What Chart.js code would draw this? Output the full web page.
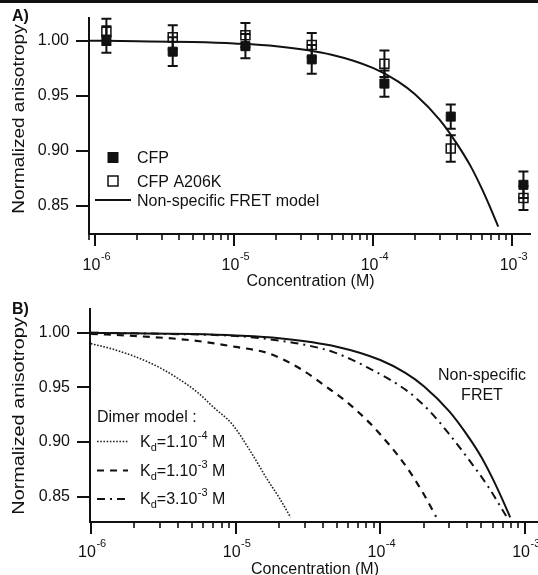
<!DOCTYPE html>
<html>
<head>
<meta charset="utf-8">
<title>Normalized anisotropy</title>
<script src="https://cdn.jsdelivr.net/npm/chart.js@4.4.0/dist/chart.umd.min.js"></script>
<style>
  body { margin: 0; background: #fff; }
  canvas { display: block; }
</style>
</head>
<body>
<canvas id="chartA" width="538" height="290"></canvas>
<canvas id="chartB" width="538" height="285"></canvas>
<script>
// ---- values ----

// panel A, measured points
var concentrations = [1.2e-6, 3.6e-6, 1.2e-5, 3.6e-5, 1.2e-4, 3.6e-4, 1.2e-3];
var cfpValues = [1.001, 0.990, 0.995, 0.983, 0.961, 0.931, 0.869];
var cfpErrors = [0.012, 0.013, 0.011, 0.013, 0.012, 0.011, 0.012];
var a206kValues = [1.008, 1.003, 1.005, 0.996, 0.979, 0.902, 0.857];
var a206kErrors = [0.012, 0.011, 0.011, 0.011, 0.012, 0.012, 0.011];

// non-specific FRET model (both panels)
var fretConc = [9e-7, 2e-6, 5e-6, 1e-5, 2e-5, 5e-5, 1e-4, 1.5e-4, 2e-4, 3e-4, 4e-4, 5e-4, 6e-4, 7e-4, 7.9e-4];
var fretValues = [1.000, 0.9995, 0.9987, 0.9974, 0.9949, 0.9872, 0.975, 0.963, 0.951, 0.928, 0.906, 0.886, 0.866, 0.847, 0.831];

// panel B, dimer model curves
var kd1e4Conc = [1e-6, 1.5e-6, 2.6e-6, 3.8e-6, 5.5e-6, 7e-6, 9.5e-6, 1.3e-5, 1.65e-5, 2e-5, 2.4e-5];
var kd1e4Values = [0.990, 0.984, 0.972, 0.960, 0.945, 0.932, 0.916, 0.889, 0.866, 0.849, 0.831];
var kd1e3Conc = [1e-6, 2e-6, 5e-6, 1e-5, 1.7e-5, 2.8e-5, 4.5e-5, 5.7e-5, 8.5e-5, 1.16e-4, 1.52e-4, 1.98e-4, 2.43e-4];
var kd1e3Values = [0.999, 0.997, 0.993, 0.987, 0.981, 0.967, 0.948, 0.938, 0.917, 0.897, 0.877, 0.853, 0.8315];
var kd3e3Conc = [1e-6, 3e-6, 1e-5, 1.7e-5, 3e-5, 4.8e-5, 8.2e-5, 1.56e-4, 2.2e-4, 3e-4, 3.95e-4, 5.57e-4, 7.46e-4];
var kd3e3Values = [1.000, 0.999, 0.997, 0.994, 0.989, 0.982, 0.968, 0.946, 0.928, 0.907, 0.8865, 0.859, 0.8315];

var kdMantissa = ['1', '1', '3'];
var kdExponent = ['-4', '-3', '-3'];

// axes
var yTickValues = [0.85, 0.90, 0.95, 1.00];
var xTickValues = [1e-6, 1e-5, 1e-4, 1e-3];
var xTickExponents = ['-6', '-5', '-4', '-3'];
var rangeA = { xMin: 8.995e-7, xMax: 1.340e-3, yMin: 0.8243, yMax: 1.0206 };
var rangeB = { xMin: 9.86e-7, xMax: 1.230e-3, yMin: 0.8267, yMax: 1.0217 };

var FONT = '"Liberation Sans", Arial, Helvetica, sans-serif';
var INK = '#111';


// ===============================================================================================

function toPoints(xs, ys) {
  var pts = [];
  for (var i = 0; i < xs.length; i++) {
    pts.push({ x: xs[i], y: ys[i] });
  }
  return pts;
}

function font(size, bold) {
  return (bold ? 'bold ' : '') + size + 'px ' + FONT;
}

// draws a run of text pieces, some of them raised or lowered
function richText(ctx, x, y, parts) {
  for (var i = 0; i < parts.length; i++) {
    var p = parts[i];
    ctx.font = font(p.size);
    ctx.fillText(p.t, x, y + (p.dy || 0));
    x += ctx.measureText(p.t).width + (p.gap || 0);
  }
}

function drawAxisBits(chart, labelBase, titleBase, titleCenterY, titleStretch) {
  var ctx = chart.ctx;
  var xs = chart.scales.x;
  var area = chart.chartArea;
  ctx.save();
  ctx.strokeStyle = INK;
  ctx.fillStyle = INK;

  // log ticks under the x axis
  var lo = Math.floor(Math.log10(xs.min));
  var hi = Math.ceil(Math.log10(xs.max));
  for (var d = lo; d <= hi; d++) {
    for (var m = 1; m <= 9; m++) {
      var v = m * Math.pow(10, d);
      if (v < xs.min || v > xs.max) continue;
      var px = Math.round(xs.getPixelForValue(v));
      ctx.lineWidth = m === 1 ? 2 : 1.6;
      ctx.beginPath();
      ctx.moveTo(px, area.bottom);
      ctx.lineTo(px, area.bottom + (m === 1 ? 12 : 6));
      ctx.stroke();
    }
  }

  // 10^n labels
  ctx.textBaseline = 'alphabetic';
  ctx.textAlign = 'left';
  for (var i = 0; i < xTickValues.length; i++) {
    var x = xs.getPixelForValue(xTickValues[i]);
    ctx.font = font(16);
    var w1 = ctx.measureText('10').width;
    ctx.font = font(11);
    var w2 = ctx.measureText(xTickExponents[i]).width;
    var start = x - (w1 + w2) / 2 + 1;
    richText(ctx, start, labelBase, [
      { t: '10', size: 16, gap: 0.5 },
      { t: xTickExponents[i], size: 11, dy: -9.5 }
    ]);
  }

  // axis titles
  ctx.font = font(16);
  ctx.textAlign = 'center';
  ctx.fillText('Concentration (M)', (area.left + area.right) / 2 + 1, titleBase);

  ctx.save();
  ctx.translate(24, titleCenterY);
  ctx.rotate(-Math.PI / 2);
  ctx.scale(titleStretch, 1);
  ctx.fillText('Normalized anisotropy', 0, 0);
  ctx.restore();

  ctx.restore();
}

function axisOptions(range, yWidth, xHeight) {
  return {
    x: {
      type: 'logarithmic',
      min: range.xMin,
      max: range.xMax,
      grid: { display: false },
      ticks: { display: false },
      border: { display: true, width: 2, color: INK },
      afterFit: function (s) {
        s.height = xHeight;
        s.paddingLeft = 0;
        s.paddingRight = 0;
      }
    },
    y: {
      min: range.yMin,
      max: range.yMax,
      afterBuildTicks: function (s) {
        s.ticks = yTickValues.map(function (v) { return { value: v }; });
      },
      afterFit: function (s) {
        s.width = yWidth;
        s.paddingTop = 0;
        s.paddingBottom = 0;
      },
      ticks: {
        font: { family: FONT, size: 16 },
        color: INK,
        padding: 7,
        callback: function (v) { return Number(v).toFixed(2); }
      },
      grid: { drawOnChartArea: false, drawTicks: true, tickLength: 13, lineWidth: 2, color: INK },
      border: { display: true, width: 2, color: INK }
    }
  };
}


// ===============================================================================================
// panel A

var errorBarsPlugin = {
  id: 'errorBars',
  beforeDatasetsDraw: function (chart) {
    var ctx = chart.ctx;
    var xs = chart.scales.x;
    var ys = chart.scales.y;
    var sets = [[cfpValues, cfpErrors], [a206kValues, a206kErrors]];
    ctx.save();
    ctx.strokeStyle = INK;
    ctx.lineWidth = 2;
    sets.forEach(function (s) {
      for (var i = 0; i < concentrations.length; i++) {
        var x = xs.getPixelForValue(concentrations[i]);
        var top = ys.getPixelForValue(s[0][i] + s[1][i]);
        var bot = ys.getPixelForValue(s[0][i] - s[1][i]);
        ctx.beginPath();
        ctx.moveTo(x, top); ctx.lineTo(x, bot);
        ctx.moveTo(x - 5, top); ctx.lineTo(x + 5, top);
        ctx.moveTo(x - 5, bot); ctx.lineTo(x + 5, bot);
        ctx.stroke();
      }
    });
    ctx.restore();
  }
};

var decorA = {
  id: 'decorA',
  afterDraw: function (chart) {
    var ctx = chart.ctx;
    drawAxisBits(chart, 269.5, 286, 119, 1.19);

    ctx.save();
    ctx.fillStyle = INK;
    ctx.strokeStyle = INK;
    ctx.fillRect(0, 0, 538, 3);

    ctx.font = font(16, true);
    ctx.textAlign = 'left';
    ctx.fillText('A)', 12, 21);

    // legend
    var ds = chart.data.datasets;
    ctx.fillRect(107.5, 152, 11, 11);
    ctx.lineWidth = 1.5;
    ctx.strokeRect(108, 176, 10, 10);
    ctx.lineWidth = 2;
    ctx.beginPath();
    ctx.moveTo(95, 200); ctx.lineTo(131, 200);
    ctx.stroke();
    ctx.font = font(16);
    ctx.fillText(ds[0].label, 137, 163);
    ctx.fillText(ds[1].label, 137, 186.5);
    ctx.fillText(ds[2].label, 137, 205.5);
    ctx.restore();
  }
};

new Chart(document.getElementById('chartA'), {
  type: 'scatter',
  data: {
    datasets: [
      {
        label: 'CFP',
        data: toPoints(concentrations, cfpValues),
        pointStyle: 'rect',
        pointRadius: 6.4,
        backgroundColor: INK,
        borderColor: INK,
        borderWidth: 1
      },
      {
        label: 'CFP A206K',
        data: toPoints(concentrations, a206kValues),
        pointStyle: 'rect',
        pointRadius: 6.4,
        backgroundColor: 'rgba(0,0,0,0)',
        borderColor: INK,
        borderWidth: 1.5
      },
      {
        label: 'Non-specific FRET model',
        data: toPoints(fretConc, fretValues),
        showLine: true,
        pointRadius: 0,
        borderColor: INK,
        borderWidth: 2,
        cubicInterpolationMode: 'monotone',
        fill: false
      }
    ]
  },
  options: {
    responsive: false,
    animation: false,
    events: [],
    devicePixelRatio: 1,
    layout: { padding: { top: 18, right: 0, bottom: 0, left: 0 } },
    plugins: { legend: { display: false }, tooltip: { enabled: false } },
    scales: axisOptions(rangeA, 89, 56)
  },
  plugins: [errorBarsPlugin, decorA]
});


// ===============================================================================================
// panel B

var decorB = {
  id: 'decorB',
  afterDraw: function (chart) {
    var ctx = chart.ctx;
    drawAxisBits(chart, 266.5, 284, 126, 1.24);

    ctx.save();
    ctx.fillStyle = INK;
    ctx.font = font(16, true);
    ctx.textAlign = 'left';
    ctx.fillText('B)', 12, 23.5);

    ctx.font = font(16);
    ctx.textAlign = 'center';
    ctx.fillText('Non-specific', 482, 90);
    ctx.fillText('FRET', 482, 110);

    // dimer legend
    ctx.textAlign = 'left';
    ctx.fillText('Dimer model :', 97, 132);
    var rowLine = [151.5, 180.5, 209];
    var rowText = [157, 186, 214];
    for (var i = 0; i < 3; i++) {
      var ds = chart.data.datasets[i];
      ctx.save();
      ctx.strokeStyle = ds.borderColor;
      ctx.lineWidth = ds.borderWidth;
      ctx.setLineDash(ds.borderDash);
      ctx.beginPath();
      ctx.moveTo(97, rowLine[i]); ctx.lineTo(128, rowLine[i]);
      ctx.stroke();
      ctx.restore();
      richText(ctx, 140, rowText[i], [
        { t: 'K', size: 16 },
        { t: 'd', size: 11, dy: 4 },
        { t: '=' + kdMantissa[i] + '.10', size: 16, gap: 0.5 },
        { t: kdExponent[i], size: 11, dy: -8.5 },
        { t: ' M', size: 16 }
      ]);
    }
    ctx.restore();
  }
};

new Chart(document.getElementById('chartB'), {
  type: 'scatter',
  data: {
    datasets: [
      {
        label: 'Kd=1.10-4 M',
        data: toPoints(kd1e4Conc, kd1e4Values),
        showLine: true,
        pointRadius: 0,
        borderColor: '#222',
        borderWidth: 1.6,
        borderDash: [1.6, 1.6],
        cubicInterpolationMode: 'monotone'
      },
      {
        label: 'Kd=1.10-3 M',
        data: toPoints(kd1e3Conc, kd1e3Values),
        showLine: true,
        pointRadius: 0,
        borderColor: INK,
        borderWidth: 2.2,
        borderDash: [7, 6],
        cubicInterpolationMode: 'monotone'
      },
      {
        label: 'Kd=3.10-3 M',
        data: toPoints(kd3e3Conc, kd3e3Values),
        showLine: true,
        pointRadius: 0,
        borderColor: INK,
        borderWidth: 2,
        borderDash: [8, 5, 2, 5],
        cubicInterpolationMode: 'monotone'
      },
      {
        label: 'Non-specific FRET',
        data: toPoints(fretConc, fretValues),
        showLine: true,
        pointRadius: 0,
        borderColor: INK,
        borderWidth: 2,
        cubicInterpolationMode: 'monotone'
      }
    ]
  },
  options: {
    responsive: false,
    animation: false,
    events: [],
    devicePixelRatio: 1,
    layout: { padding: { top: 19, right: 0, bottom: 0, left: 0 } },
    plugins: { legend: { display: false }, tooltip: { enabled: false } },
    scales: axisOptions(rangeB, 90, 53)
  },
  plugins: [decorB]
});
</script>
</body>
</html>
